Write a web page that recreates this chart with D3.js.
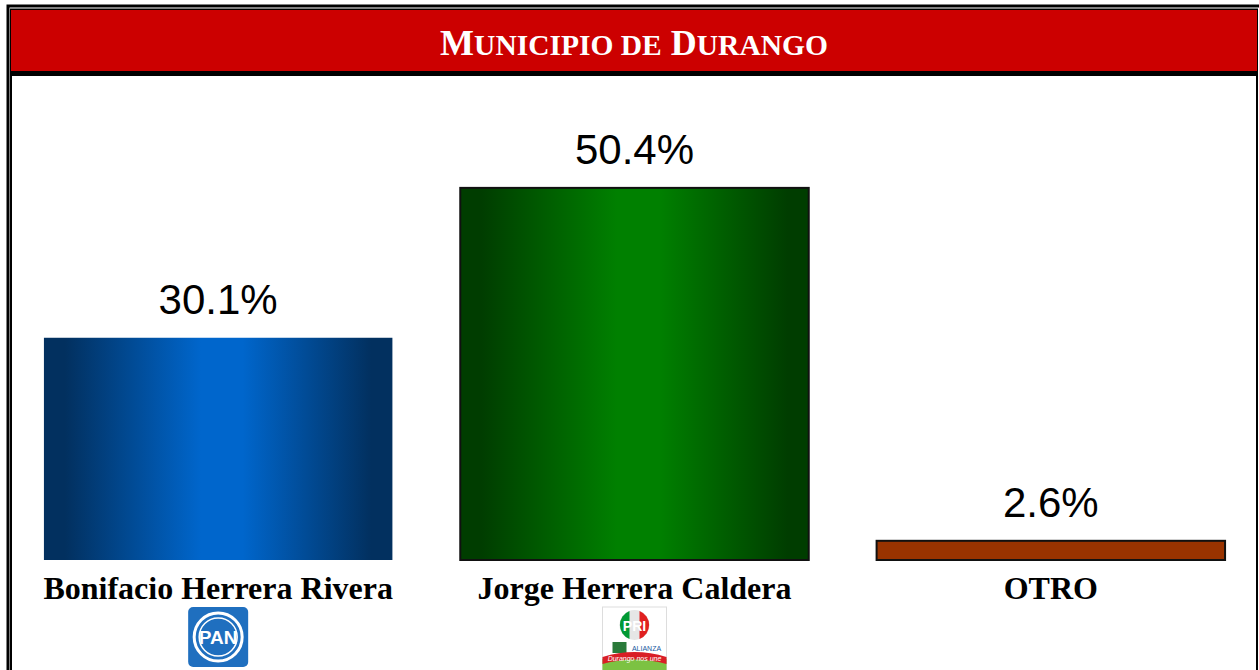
<!DOCTYPE html>
<html>
<head>
<meta charset="utf-8">
<script src="https://cdn.jsdelivr.net/npm/d3@7"></script>
<style>
  body { margin: 0; background: #fff; }
  svg { display: block; }
</style>
</head>
<body>
<script>
// data
var candidates = ["Bonifacio Herrera Rivera", "Jorge Herrera Caldera", "OTRO"];
var percents = [30.1, 50.4, 2.6];
var barKeys = ["pan", "pri", "otro"];
var titleWords = ["Municipio", "de", "Durango"];

var width = 1259, height = 670;

var svg = d3.select("body").append("svg")
    .attr("width", width)
    .attr("height", height);

// gradients for the bars
var defs = svg.append("defs");
function addGrad(id, edge, mid) {
  var g = defs.append("linearGradient").attr("id", id)
      .attr("x1", "0%").attr("x2", "100%").attr("y1", "0%").attr("y2", "0%");
  g.append("stop").attr("offset", "0%").attr("stop-color", edge);
  g.append("stop").attr("offset", "6%").attr("stop-color", edge);
  g.append("stop").attr("offset", "45%").attr("stop-color", mid);
  g.append("stop").attr("offset", "57%").attr("stop-color", mid);
  g.append("stop").attr("offset", "94%").attr("stop-color", edge);
  g.append("stop").attr("offset", "100%").attr("stop-color", edge);
}
addGrad("g-pan", "#02305f", "#0066cc");
addGrad("g-pri", "#003d00", "#008000");

var fills = { pan: "url(#g-pan)", pri: "url(#g-pri)", otro: "#993300" };
var strokes = { pan: "none", pri: "#111", otro: "#111" };

// frame
svg.append("path")
    .attr("d", "M8,670 L8,6 L1259,6")
    .attr("fill", "none")
    .attr("stroke", "#000")
    .attr("stroke-width", 3);
svg.append("rect")
    .attr("x", 11).attr("y", 9.5)
    .attr("width", 1246).attr("height", 680)
    .attr("fill", "none")
    .attr("stroke", "#000")
    .attr("stroke-width", 2);

// header band
svg.append("rect")
    .attr("x", 11).attr("y", 10)
    .attr("width", 1246).attr("height", 61)
    .attr("fill", "#cc0000");
svg.append("rect")
    .attr("x", 11).attr("y", 71)
    .attr("width", 1246).attr("height", 5)
    .attr("fill", "#000");

// title in small caps (only capitalised words get a big first letter)
var t = svg.append("text")
    .attr("x", 634).attr("y", 55)
    .attr("text-anchor", "middle")
    .style("font-family", "'Liberation Serif', 'Times New Roman', serif")
    .style("font-weight", "bold")
    .style("fill", "#fff");
titleWords.forEach(function(w, i) {
  var pre = i > 0 ? " " : "";
  var first = w[0], rest = w.slice(1);
  if (first === first.toUpperCase()) {
    t.append("tspan").style("font-size", "36px").text(pre + first);
    t.append("tspan").style("font-size", "29.5px").text(rest.toUpperCase());
  } else {
    t.append("tspan").style("font-size", "29.5px").text(pre + w.toUpperCase());
  }
});

// scales
var x = d3.scaleBand()
    .domain(candidates)
    .range([10, 1259])
    .paddingInner(0.163)
    .paddingOuter(0.0815);
var y = d3.scaleLinear().domain([0, 60]).range([560, 117]);

var data = candidates.map(function(c, i) {
  return { name: c, value: percents[i], key: barKeys[i] };
});

// bars
svg.selectAll(".bar")
    .data(data)
  .enter().append("rect")
    .attr("class", "bar")
    .attr("x", function(d) { return x(d.name); })
    .attr("y", function(d) { return y(d.value); })
    .attr("width", x.bandwidth())
    .attr("height", function(d) { return y(0) - y(d.value); })
    .attr("fill", function(d) { return fills[d.key]; })
    .attr("stroke", function(d) { return strokes[d.key]; })
    .attr("stroke-width", 2);

// value labels
svg.selectAll(".val")
    .data(data)
  .enter().append("text")
    .attr("class", "val")
    .attr("x", function(d) { return x(d.name) + x.bandwidth() / 2; })
    .attr("y", function(d) { return y(d.value) - 24; })
    .attr("text-anchor", "middle")
    .style("font-family", "'Liberation Sans', Arial, sans-serif")
    .style("font-size", "42px")
    .style("fill", "#000")
    .text(function(d) { return d.value.toFixed(1) + "%"; });

// category labels
svg.selectAll(".cat")
    .data(data)
  .enter().append("text")
    .attr("class", "cat")
    .attr("x", function(d) { return x(d.name) + x.bandwidth() / 2; })
    .attr("y", 599)
    .attr("text-anchor", "middle")
    .style("font-family", "'Liberation Serif', 'Times New Roman', serif")
    .style("font-weight", "bold")
    .style("font-size", "32px")
    .style("fill", "#000")
    .text(function(d) { return d.name; });

// PAN logo
var panX = x(candidates[0]) + x.bandwidth() / 2;
var pan = svg.append("g").attr("transform", "translate(" + panX + ",637)");
pan.append("rect")
    .attr("x", -30).attr("y", -30).attr("width", 60).attr("height", 60)
    .attr("rx", 5).attr("fill", "#1f6fbf");
pan.append("circle").attr("r", 24).attr("fill", "none")
    .attr("stroke", "#fff").attr("stroke-width", 3);
pan.append("circle").attr("r", 19).attr("fill", "none")
    .attr("stroke", "#fff").attr("stroke-width", 1.5);
pan.append("text")
    .attr("y", 7).attr("text-anchor", "middle")
    .style("font-family", "'Liberation Sans', Arial, sans-serif")
    .style("font-weight", "bold")
    .style("font-size", "19px")
    .style("fill", "#fff")
    .text("PAN");

// PRI coalition logo
var priX = x(candidates[1]) + x.bandwidth() / 2;
var pri = svg.append("g").attr("transform", "translate(" + priX + ",607)");
pri.append("rect")
    .attr("x", -32).attr("y", 0).attr("width", 64).attr("height", 63)
    .attr("fill", "#fff").attr("stroke", "#ddd").attr("stroke-width", 1);
pri.append("circle").attr("cx", 0).attr("cy", 18).attr("r", 15).attr("fill", "#e6e6e6");
pri.append("path").attr("d", "M-5,4 A15,15 0 0,0 -5,32 Z").attr("fill", "#009933");
pri.append("path").attr("d", "M5,4 A15,15 0 0,1 5,32 Z").attr("fill", "#e02020");
pri.append("text")
    .attr("x", 0).attr("y", 24).attr("text-anchor", "middle")
    .style("font-family", "'Liberation Sans', Arial, sans-serif")
    .style("font-weight", "bold")
    .style("font-size", "14px")
    .style("fill", "#fff")
    .text("PRI");
pri.append("rect").attr("x", -22).attr("y", 35).attr("width", 14).attr("height", 11).attr("fill", "#2a7a3a");
pri.append("text")
    .attr("x", 12).attr("y", 44).attr("text-anchor", "middle")
    .style("font-family", "'Liberation Sans', Arial, sans-serif")
    .style("font-size", "7px")
    .style("fill", "#1a5aa0")
    .text("ALIANZA");
pri.append("path")
    .attr("d", "M-32,52 Q0,44 32,52 L32,63 L-32,63 Z")
    .attr("fill", "#7cc242");
pri.append("path")
    .attr("d", "M-32,50 Q0,40 32,50 L32,57 Q0,48 -32,57 Z")
    .attr("fill", "#d91e26");
pri.append("text")
    .attr("x", 0).attr("y", 54).attr("text-anchor", "middle")
    .style("font-family", "'Liberation Sans', Arial, sans-serif")
    .style("font-style", "italic")
    .style("font-size", "7px")
    .style("fill", "#fff")
    .text("Durango nos une");
</script>
</body>
</html>
